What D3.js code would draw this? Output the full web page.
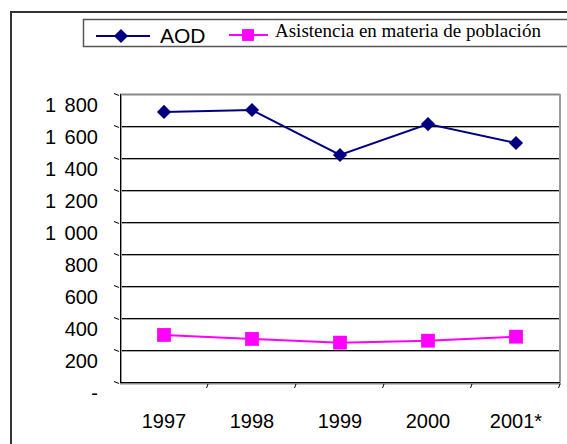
<!DOCTYPE html>
<html>
<head>
<meta charset="utf-8">
<script src="https://cdn.jsdelivr.net/npm/d3@7"></script>
<style>
  body { margin: 0; background: #fff; }
  svg { display: block; }
  .axis text { font-family: "Liberation Sans", Arial, sans-serif; font-size: 20px; fill: #000; }
</style>
</head>
<body>
<div id="chart"></div>
<script>
// data
var years = ["1997", "1998", "1999", "2000", "2001*"];
var aod = [1688, 1700, 1419, 1612, 1494];
var poblacion = [294, 269, 246, 258, 283];
var yTicks = [0, 200, 400, 600, 800, 1000, 1200, 1400, 1600, 1800];
var yLabels = ["-", "200", "400", "600", "800", "1 000", "1 200", "1 400", "1 600", "1 800"];

var width = 567, height = 444;
var plot = {left: 120, right: 560, top: 94, bottom: 382};

var svg = d3.select("#chart").append("svg")
    .attr("width", width)
    .attr("height", height);

svg.append("rect").attr("width", width).attr("height", height).attr("fill", "#fff");

// outer frame
svg.append("rect")
    .attr("x", 11).attr("y", 12)
    .attr("width", 600).attr("height", 500)
    .attr("fill", "none").attr("stroke", "#333").attr("stroke-width", 2);

var x = d3.scaleBand().domain(years).range([plot.left, plot.right]);
var y = d3.scaleLinear().domain([0, 1800]).range([plot.bottom, plot.top]);

// gridlines (with a grey shade under each one, like the excel 3d look)
var grid = svg.append("g");
yTicks.slice(1, -1).forEach(function(v) {
  grid.append("line")
      .attr("x1", plot.left).attr("x2", plot.right)
      .attr("y1", y(v) + 1.5).attr("y2", y(v) + 1.5)
      .attr("stroke", "#aaa").attr("stroke-width", 1);
  grid.append("line")
      .attr("x1", plot.left).attr("x2", plot.right)
      .attr("y1", y(v) + 0.5).attr("y2", y(v) + 0.5)
      .attr("stroke", "#000").attr("stroke-width", 1);
});

// top edge and right wall
grid.append("line")
    .attr("x1", plot.left).attr("x2", plot.right)
    .attr("y1", y(1800) + 0.5).attr("y2", y(1800) + 0.5)
    .attr("stroke", "#888").attr("stroke-width", 2);
grid.append("line")
    .attr("x1", plot.right).attr("x2", plot.right)
    .attr("y1", plot.top).attr("y2", plot.bottom)
    .attr("stroke", "#999").attr("stroke-width", 2);

// floor
grid.append("line")
    .attr("x1", plot.left).attr("x2", plot.right + 1)
    .attr("y1", plot.bottom + 1.5).attr("y2", plot.bottom + 1.5)
    .attr("stroke", "#888").attr("stroke-width", 2);
grid.append("line")
    .attr("x1", plot.left).attr("x2", plot.right)
    .attr("y1", plot.bottom + 0.5).attr("y2", plot.bottom + 0.5)
    .attr("stroke", "#000").attr("stroke-width", 1);

// left wall
grid.append("line")
    .attr("x1", plot.left + 1.5).attr("x2", plot.left + 1.5)
    .attr("y1", plot.top).attr("y2", plot.bottom)
    .attr("stroke", "#999").attr("stroke-width", 1);
grid.append("line")
    .attr("x1", plot.left + 0.5).attr("x2", plot.left + 0.5)
    .attr("y1", plot.top).attr("y2", plot.bottom + 1)
    .attr("stroke", "#000").attr("stroke-width", 1);

// y axis
var yAxis = svg.append("g")
    .attr("class", "axis y")
    .attr("transform", "translate(" + plot.left + ",0)")
    .call(d3.axisLeft(y).tickValues(yTicks).tickSize(5).tickPadding(17)
      .tickFormat(function(d, i) { return yLabels[i]; }));
yAxis.select(".domain").remove();
yAxis.selectAll(".tick line")
    .attr("x1", -1).attr("x2", -6)
    .attr("y1", 1).attr("y2", -1)
    .attr("stroke", "#000");
yAxis.selectAll(".tick text").attr("y", 11).style("word-spacing", "3px");

// x axis: labels in the middle of each category, slanted ticks on the boundaries
var xAxis = svg.append("g")
    .attr("class", "axis x")
    .attr("transform", "translate(0," + plot.bottom + ")")
    .call(d3.axisBottom(x).tickSize(0).tickPadding(32));
xAxis.select(".domain").remove();

svg.append("g").selectAll("line")
    .data(years)
  .enter().append("line")
    .attr("x1", function(d) { return x(d) + x.bandwidth(); })
    .attr("x2", function(d) { return x(d) + x.bandwidth() - 1.5; })
    .attr("y1", plot.bottom + 2)
    .attr("y2", plot.bottom + 6)
    .attr("stroke", "#000");

// series
var line = d3.line()
    .x(function(d, i) { return x(years[i]) + x.bandwidth() / 2; })
    .y(function(d) { return y(d); });

var diamond = d3.symbol().type(d3.symbolSquare).size(100);
var square = d3.symbol().type(d3.symbolSquare).size(190);

svg.append("path")
    .datum(aod)
    .attr("d", line)
    .attr("fill", "none").attr("stroke", "#000080").attr("stroke-width", 2);
svg.append("g").selectAll("path")
    .data(aod)
  .enter().append("path")
    .attr("d", diamond)
    .attr("fill", "#000080")
    .attr("transform", function(d, i) {
      return "translate(" + (x(years[i]) + x.bandwidth() / 2) + "," + y(d) + ") rotate(45)";
    });

svg.append("path")
    .datum(poblacion)
    .attr("d", line)
    .attr("fill", "none").attr("stroke", "#ff00ff").attr("stroke-width", 2);
svg.append("g").selectAll("path")
    .data(poblacion)
  .enter().append("path")
    .attr("d", square)
    .attr("fill", "#ff00ff")
    .attr("transform", function(d, i) {
      return "translate(" + (x(years[i]) + x.bandwidth() / 2) + "," + y(d) + ")";
    });

// legend
var legend = svg.append("g");
legend.append("rect")
    .attr("x", 83.5).attr("y", 19.5)
    .attr("width", 520).attr("height", 27)
    .attr("fill", "#fff").attr("stroke", "#555").attr("stroke-width", 1.5);

legend.append("line")
    .attr("x1", 96).attr("x2", 150).attr("y1", 36).attr("y2", 36)
    .attr("stroke", "#000080").attr("stroke-width", 2);
legend.append("path")
    .attr("d", diamond)
    .attr("fill", "#000080")
    .attr("transform", "translate(121,36) rotate(45)");
legend.append("text")
    .attr("x", 160).attr("y", 43)
    .style("font-family", '"Liberation Sans", Arial, sans-serif')
    .style("font-size", "21px")
    .text("AOD");

legend.append("line")
    .attr("x1", 229).attr("x2", 268).attr("y1", 35).attr("y2", 35)
    .attr("stroke", "#ff00ff").attr("stroke-width", 2);
legend.append("path")
    .attr("d", d3.symbol().type(d3.symbolSquare).size(140))
    .attr("fill", "#ff00ff")
    .attr("transform", "translate(248,35)");
legend.append("text")
    .attr("x", 275).attr("y", 37)
    .style("font-family", '"Liberation Serif", "Times New Roman", serif')
    .style("font-size", "19px")
    .text("Asistencia en materia de población");
</script>
</body>
</html>
